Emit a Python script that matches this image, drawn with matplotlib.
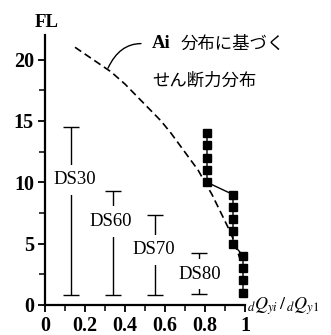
import matplotlib
matplotlib.use('Agg')
import matplotlib.pyplot as plt
from matplotlib.ticker import MultipleLocator

plt.rcParams['mathtext.fontset'] = 'stix'

# Ai-distribution shear (dashed), per floor
ai_fl = [21, 20, 19, 18, 17, 16, 15, 14, 13, 12, 11, 10, 9, 8, 7, 6, 5, 4, 3]
ai_q = [0.15, 0.24, 0.33, 0.40, 0.46, 0.52, 0.58, 0.63, 0.675, 0.72, 0.765,
        0.80, 0.835, 0.865, 0.895, 0.925, 0.95, 0.97, 0.99]

# design shear ratio (solid with squares)
des_fl = [14, 13, 12, 11, 10, 9, 8, 7, 6, 5, 4, 3, 2, 1]
des_q = [0.81, 0.81, 0.81, 0.81, 0.81, 0.94, 0.94, 0.94, 0.94, 0.94,
         0.99, 0.99, 0.99, 0.99]

# damage ranges
ds_names = ['DS30', 'DS60', 'DS70', 'DS80']
ds_x = [0.13, 0.34, 0.55, 0.77]
ds_low = [0.8, 0.8, 0.8, 0.9]
ds_high = [14.5, 9.3, 7.3, 4.2]
ds_label_x = [0.15, 0.33, 0.545, 0.775]
ds_label_y = [10.2, 6.8, 4.5, 2.5]

fig = plt.figure(figsize=(3.31, 3.35), dpi=100)
ax = fig.add_axes([45 / 331, 1 - 305 / 335, 200 / 331, 270 / 335])
ax.set_xlim(0, 1)
ax.set_ylim(0, 22)

for s in ['top', 'right']:
    ax.spines[s].set_visible(False)
for s in ['left', 'bottom']:
    ax.spines[s].set_linewidth(1.6)

ax.xaxis.set_major_locator(MultipleLocator(0.2))
ax.xaxis.set_minor_locator(MultipleLocator(0.1))
ax.yaxis.set_major_locator(MultipleLocator(5))
ax.yaxis.set_minor_locator(MultipleLocator(2.5))
ax.tick_params(which='major', direction='out', length=5, width=1.3, pad=3)
ax.tick_params(which='minor', direction='out', length=4, width=1.1)
ax.set_xticks([0, 0.2, 0.4, 0.6, 0.8, 1.0])
ax.set_xticklabels(['0', '0.2', '0.4', '0.6', '0.8', '1'])
for lab in ax.get_xticklabels() + ax.get_yticklabels():
    lab.set_fontfamily('Liberation Serif')
    lab.set_fontweight('bold')
    lab.set_fontsize(14.5)

# error bars (drawn first so the labels can cover them)
half = [(h - l) / 2 for l, h in zip(ds_low, ds_high)]
mid = [(h + l) / 2 for l, h in zip(ds_low, ds_high)]
ax.errorbar(ds_x, mid, yerr=half, fmt='none', ecolor='k', elinewidth=1.0,
            capsize=5.5, capthick=1.0, zorder=2)
for name, x, y in zip(ds_names, ds_label_x, ds_label_y):
    ax.text(x, y, name, ha='center', va='center', fontsize=13.5,
            family='Liberation Serif', zorder=3,
            bbox=dict(boxstyle='square,pad=0.35', facecolor='white', edgecolor='none'))

ax.plot(ai_q, ai_fl, color='k', linestyle='--', dashes=(4.5, 2.5), lw=1.2, zorder=4)
ax.plot(des_q, des_fl, color='k', lw=1.0, marker='s', markersize=5.5,
        clip_on=False, zorder=5)

# leader and annotation
ax.annotate('', xy=(0.315, 19.3), xytext=(0.48, 21.3),
            arrowprops=dict(arrowstyle='-', lw=1.0, color='k', shrinkA=0, shrinkB=0,
                            connectionstyle='angle3,angleA=0,angleB=65'))
ax.text(0.535, 21.3, 'Ai', fontsize=13.5, family='Liberation Serif',
        fontweight='bold', va='center', ha='left')
ax.text(0.68, 21.3, '分布に基づく', fontsize=12.5, family='Noto Sans CJK JP',
        va='center', ha='left')
ax.text(0.535, 18.3, 'せん断力分布', fontsize=12.5, family='Noto Sans CJK JP',
        va='center', ha='left')

ax.text(0.01, 1.015, 'FL', transform=ax.transAxes, ha='center', va='bottom',
        fontsize=13.5, family='Liberation Serif', fontweight='bold')
ax.text(1.01, -0.1, r'${}_{d}Q_{yi}\,/\,{}_{d}Q_{y1}$', ha='left', va='center',
        fontsize=13)

fig.savefig('out.png', dpi=100)
